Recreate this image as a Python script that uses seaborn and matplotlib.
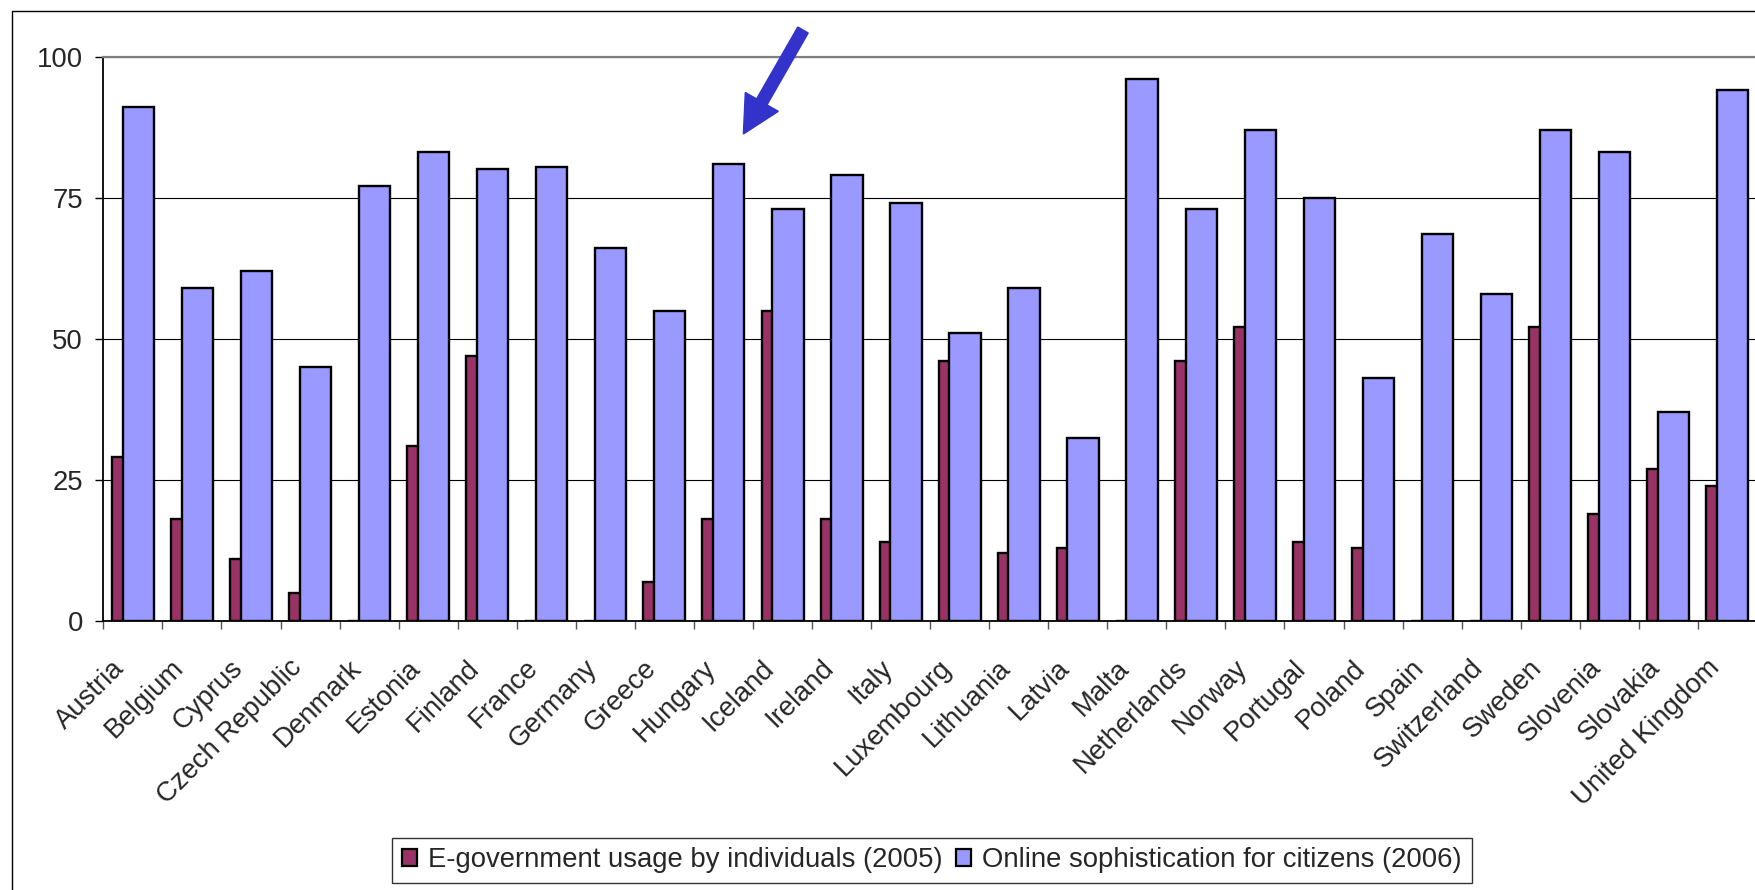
# E-government usage vs online sophistication, by country

import numpy as np
import pandas as pd
import seaborn as sns
import matplotlib.pyplot as plt
from matplotlib.patches import FancyArrow, Rectangle
from matplotlib.transforms import ScaledTranslation

countries = ['Austria', 'Belgium', 'Cyprus', 'Czech Republic', 'Denmark', 'Estonia',
             'Finland', 'France', 'Germany', 'Greece', 'Hungary', 'Iceland', 'Ireland',
             'Italy', 'Luxembourg', 'Lithuania', 'Latvia', 'Malta', 'Netherlands',
             'Norway', 'Portugal', 'Poland', 'Spain', 'Switzerland', 'Sweden',
             'Slovenia', 'Slovakia', 'United Kingdom']
egov_2005 = [29, 18, 11, 5, 0, 31, 47, 0, 0, 7, 18, 55, 18, 14, 46, 12, 13, 0, 46,
             52, 14, 13, 0, 0, 52, 19, 27, 24]
online_2006 = [91, 59, 62, 45, 77, 83, 80, 80.5, 66, 55, 81, 73, 79, 74, 51, 59, 32.5,
               96, 73, 87, 75, 43, 68.5, 58, 87, 83, 37, 94]
series_names = ['E-government usage by individuals (2005)',
                'Online sophistication for citizens (2006)']
series_colors = ['#993366', '#9999FF']
yticks = [0, 25, 50, 75, 100]

if __name__ == '__main__':

  n = len(countries)
  data = pd.DataFrame(dict(
    country=countries * 2,
    value=egov_2005 + online_2006,
    series=[series_names[0]] * n + [series_names[1]] * n,
  ))

  sns.set_theme(style='white')
  plt.rcParams['font.family'] = ['Liberation Sans', 'DejaVu Sans']
  fs = 19.8

  fig = plt.figure(figsize=(17.55, 8.9), dpi=100)
  ax = fig.add_axes([0.0589, 0.3022, 0.9422, 0.6343])

  # overlapping bars like the excel chart: narrow dodge, widened bars
  sns.barplot(data=data, x='country', y='value', hue='series', order=countries,
              hue_order=series_names, palette=series_colors, saturation=1,
              width=0.36, gap=-1.95, errorbar=None, edgecolor='black',
              linewidth=1.7, legend=False, ax=ax)

  ax.set_xlim(-0.5, n - 0.5)
  ax.set_ylim(0, 100)
  ax.set_yticks(yticks)
  ax.set_xlabel('')
  ax.set_ylabel('')
  ax.yaxis.grid(True, color='black', linewidth=0.8)
  ax.set_axisbelow(True)

  for side in ['left', 'bottom']:
    ax.spines[side].set_color('black')
    ax.spines[side].set_linewidth(1.3)
  for side in ['top', 'right']:
    ax.spines[side].set_color('#808080')
    ax.spines[side].set_linewidth(1.6)

  ax.tick_params(axis='y', left=True, length=5.8, width=1, color='black',
                 labelsize=fs, pad=9)
  ax.set_xticks(np.arange(n))
  ax.set_xticks(np.arange(n + 1) - 0.5, minor=True)
  ax.set_xticklabels(countries, rotation=45, ha='right', va='center',
                     rotation_mode='anchor', fontsize=fs)
  ax.tick_params(axis='x', which='major', bottom=True, length=0, pad=31)
  ax.tick_params(axis='x', which='minor', bottom=True, length=5.8, width=1,
                 color='#555555')
  shift = ScaledTranslation(-12 / 100, 0, fig.dpi_scale_trans)
  for lbl in ax.get_xticklabels():
    lbl.set_transform(lbl.get_transform() + shift)

  handles = [Rectangle((0, 0), 1, 1, facecolor=c, edgecolor='black', linewidth=1.6)
             for c in series_colors]
  leg = fig.legend(handles, series_names, loc='center', bbox_to_anchor=(0.531, 0.0335),
                   ncol=2, frameon=True, fancybox=False, edgecolor='black',
                   fontsize=fs, handlelength=0.55, handleheight=0.55,
                   handletextpad=0.4, columnspacing=0.5, borderpad=0.35)
  leg.get_frame().set_linewidth(1.0)

  # outer chart border (runs off the right and bottom of the picture)
  fig.add_artist(Rectangle((12 / 1755, -0.1), 1.5, 1.1 - 11 / 890,
                           transform=fig.transFigure, facecolor='none',
                           edgecolor='black', linewidth=1.0, clip_on=False))

  # blue arrow pointing at Hungary
  fig.add_artist(FancyArrow(8.03, 8.60, -0.596, -1.04, width=0.12, head_width=0.38,
                            head_length=0.37, length_includes_head=True,
                            color='#3333CC', transform=fig.dpi_scale_trans))

  fig.savefig('out.png', dpi=100)
